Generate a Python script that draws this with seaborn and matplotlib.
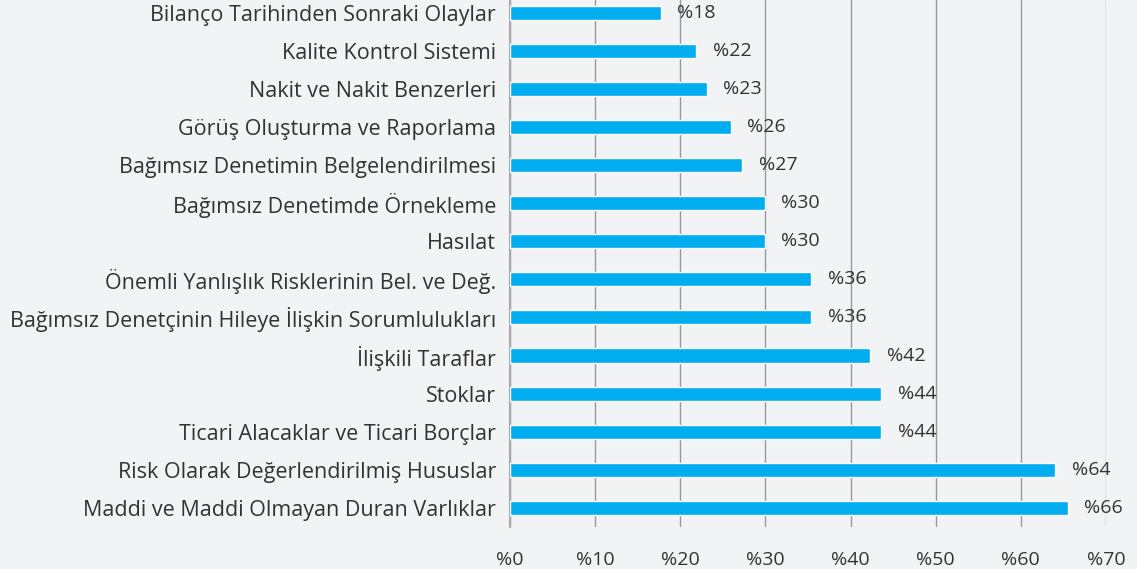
import matplotlib
matplotlib.use("Agg")
import pandas as pd
import matplotlib.pyplot as plt
import seaborn as sns

# Kategorien und Werte (von oben nach unten)
kategorien = [
    "Bilanço Tarihinden Sonraki Olaylar",
    "Kalite Kontrol Sistemi",
    "Nakit ve Nakit Benzerleri",
    "Görüş Oluşturma ve Raporlama",
    "Bağımsız Denetimin Belgelendirilmesi",
    "Bağımsız Denetimde Örnekleme",
    "Hasılat",
    "Önemli Yanlışlık Risklerinin Bel. ve Değ.",
    "Bağımsız Denetçinin Hileye İlişkin Sorumlulukları",
    "İlişkili Taraflar",
    "Stoklar",
    "Ticari Alacaklar ve Ticari Borçlar",
    "Risk Olarak Değerlendirilmiş Hususlar",
    "Maddi ve Maddi Olmayan Duran Varlıklar",
]
werte = [17.7, 21.9, 23.1, 25.9, 27.3, 29.9, 29.9, 35.4, 35.4, 42.3, 43.6, 43.6, 64.0, 65.5]
etiketten = ["%18", "%22", "%23", "%26", "%27", "%30", "%30", "%36", "%36",
             "%42", "%44", "%44", "%64", "%66"]
x_ticks = [0, 10, 20, 30, 40, 50, 60, 70]

df = pd.DataFrame({"Kategorie": kategorien, "Wert": werte})

bg = "#f2f3f5"
txt = "#333333"
sns.set_style("white")
plt.rcParams["font.family"] = ["Open Sans", "DejaVu Sans"]

fig = plt.figure(figsize=(11.37, 5.69), dpi=100, facecolor=bg)
ax = fig.add_axes([510 / 1137, 42 / 569, 596 / 1137, 527 / 569])
ax.set_facecolor(bg)

sns.barplot(data=df, x="Wert", y="Kategorie", color="#00aeef", width=0.37,
            saturation=1, ax=ax, zorder=3)

for cont in ax.containers:
    ax.bar_label(cont, labels=etiketten, padding=12, fontsize=14, color=txt)

ax.set_xlim(0, 70)
ax.set_ylim(13.5, -0.33)
ax.set_xticks(x_ticks)
ax.set_xticklabels([f"%{t}" for t in x_ticks], fontsize=14, color=txt)
ax.tick_params(axis="x", length=9, color="#999999", width=1, pad=8)
ax.tick_params(axis="y", length=0, labelsize=15.5, labelcolor=txt, pad=10)
ax.xaxis.grid(True, color="#999999", linewidth=1, zorder=0)
ax.set_axisbelow(True)
ax.set_xlabel("")
ax.set_ylabel("")
for s in ["top", "right", "bottom"]:
    ax.spines[s].set_visible(False)
ax.spines["left"].set_color("#aaaaaa")
ax.spines["left"].set_linewidth(1.5)

fig.savefig("out.png", dpi=100, facecolor=bg)
